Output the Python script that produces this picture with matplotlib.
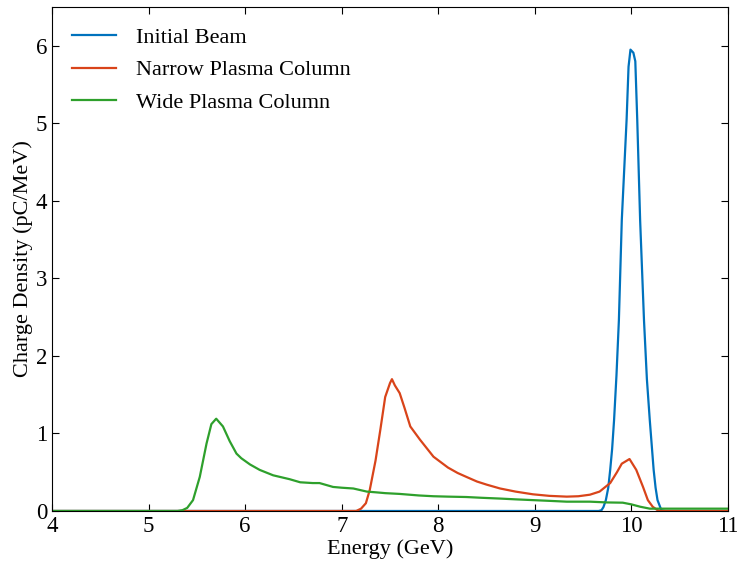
import matplotlib.pyplot as plt

plt.rcParams['font.family'] = ['Liberation Serif', 'DejaVu Serif']
plt.rcParams['font.size'] = 16

# energy (GeV) / charge density (pC/MeV)
init_e = [4.0, 9.6, 9.66, 9.69, 9.71, 9.735, 9.76, 9.78, 9.8, 9.82, 9.845, 9.87,
          9.9, 9.95, 9.97, 9.99, 10.02, 10.04, 10.06, 10.09, 10.13, 10.16, 10.19,
          10.23, 10.25, 10.27, 10.31, 10.35, 11.0]
init_q = [0.0, 0.0, 0.0, 0.01, 0.05, 0.14, 0.3, 0.53, 0.8, 1.17, 1.75, 2.46,
          3.75, 5.05, 5.73, 5.95, 5.91, 5.8, 5.05, 3.75, 2.46, 1.7, 1.17,
          0.53, 0.3, 0.14, 0.01, 0.0, 0.0]

narrow_e = [4.0, 7.15, 7.2, 7.25, 7.29, 7.35, 7.4, 7.45, 7.5, 7.52, 7.55, 7.6,
            7.65, 7.71, 7.81, 7.95, 8.1, 8.2, 8.29, 8.4, 8.5, 8.64, 8.8,
            8.98, 9.15, 9.33, 9.45, 9.57, 9.67, 9.78, 9.85, 9.9, 9.98,
            10.05, 10.12, 10.17, 10.22, 10.27, 10.3, 11.0]
narrow_q = [0.0, 0.0, 0.03, 0.1, 0.27, 0.65, 1.05, 1.47, 1.65, 1.7, 1.62, 1.52,
            1.33, 1.09, 0.92, 0.7, 0.56, 0.49, 0.44, 0.38, 0.34, 0.29, 0.25,
            0.215, 0.195, 0.185, 0.19, 0.21, 0.25, 0.36, 0.5, 0.61, 0.67,
            0.53, 0.31, 0.14, 0.055, 0.01, 0.0, 0.0]

wide_e = [4.0, 5.3, 5.35, 5.4, 5.46, 5.53, 5.6, 5.65, 5.7, 5.77, 5.84,
          5.91, 5.96, 6.05, 6.15, 6.29, 6.46, 6.57, 6.7, 6.77, 6.91, 7.0, 7.12,
          7.26, 7.36, 7.45, 7.6, 7.8, 7.95, 8.1, 8.29, 8.45, 8.64, 8.8, 8.98, 9.16,
          9.33, 9.57, 9.75, 9.91, 10.0, 10.09, 10.19, 10.3, 10.6, 11.0]
wide_q = [0.0, 0.0, 0.01, 0.04, 0.14, 0.44, 0.87, 1.12, 1.19, 1.09, 0.9,
          0.74, 0.68, 0.6, 0.53, 0.46, 0.41, 0.37, 0.36, 0.36, 0.31, 0.3, 0.29,
          0.25, 0.24, 0.23, 0.22, 0.2, 0.19, 0.185, 0.18, 0.17, 0.16, 0.15, 0.14, 0.13,
          0.12, 0.12, 0.11, 0.107, 0.085, 0.055, 0.03, 0.03, 0.03, 0.03]

fig = plt.figure(figsize=(7.37, 5.63), dpi=100)
ax = fig.add_axes([0.0706, 0.0924, 0.9172, 0.8952])

ax.plot(init_e, init_q, color='#0072BD', lw=1.6, label='Initial Beam')
ax.plot(narrow_e, narrow_q, color='#D9441A', lw=1.6, label='Narrow Plasma Column')
ax.plot(wide_e, wide_q, color='#2EA02C', lw=1.6, label='Wide Plasma Column')

ax.set_xlim(4, 11)
ax.set_ylim(0, 6.5)
ax.set_xticks(range(4, 12))
ax.set_yticks(range(0, 7))
ax.tick_params(direction='in', top=True, right=True, length=5, labelsize=16.5)
ax.set_xlabel('Energy (GeV)', labelpad=2)
ax.set_ylabel('Charge Density (pC/MeV)', labelpad=2)

ax.legend(loc='upper left', frameon=False, fontsize=16, handlelength=2.0,
          handletextpad=0.9, labelspacing=0.55, borderaxespad=0.5)

fig.savefig('out.png', dpi=100)
